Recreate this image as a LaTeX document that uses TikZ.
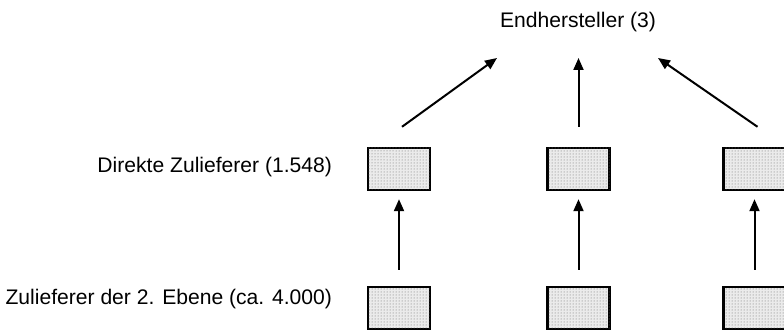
\documentclass[tikz,border=0pt]{standalone}
\usepackage{fontspec}
\setmainfont{Liberation Sans}
\usepackage{tikz}
\usetikzlibrary{arrows.meta,patterns}
\usetikzlibrary{positioning}

\tikzset{
  box/.style={draw, line width=2.4pt, fill=black!8,
    postaction={pattern=dots, pattern color=black!60},
    minimum width=62pt, minimum height=42pt, inner sep=0pt},
  lbl/.style={inner sep=0pt, font=\fontsize{21.1}{25}\selectfont}
}

\begin{document}
\begin{tikzpicture}[x=1pt, y=-1pt, >={Triangle[length=12pt,width=10pt]}, line width=2pt]
			\useasboundingbox (0,0) rectangle (784,331);
			\clip (0,0) rectangle (784,331);
			% Ebenen
			\node[lbl, anchor=base] (End) at (578,28) {Endhersteller (3)};
			\node[lbl, anchor=base east] (Dir) at (333,173) {Direkte Zulieferer (1.548)};
			\node[lbl, anchor=base east] (Zwei) at (333,304) {Zulieferer der 2. Ebene (ca. 4.000)};
			% Kaesten
			\node[box] (D1) at (399,169) {};
			\node[box, right of=D1, node distance=179.5pt] (D2) {};
			\node[box, right of=D2, node distance=176pt] (D3) {};
			\node[box, below of=D1, node distance=139pt] (Z1) {};
			\node[box, below of=D2, node distance=139pt] (Z2) {};
			\node[box, below of=D3, node distance=139pt] (Z3) {};
			\coordinate (E1) at (497,58);
			\coordinate (E2) at (578.5,58);
			\coordinate (E3) at (658,58);
			% Pfeile
			\draw[->] ([xshift=3pt,yshift=20pt]D1.north) -- (E1);
			\draw[->] ([yshift=20pt]D2.north) -- (E2);
			\draw[->] ([xshift=3pt,yshift=20pt]D3.north) -- (E3);
			\draw[->, shorten <=16pt, shorten >=8pt] (Z1) -- (D1);
			\draw[->, shorten <=16pt, shorten >=8pt] (Z2) -- (D2);
			\draw[->, shorten <=16pt, shorten >=8pt] (Z3) -- (D3);
		\end{tikzpicture}
\end{document}
